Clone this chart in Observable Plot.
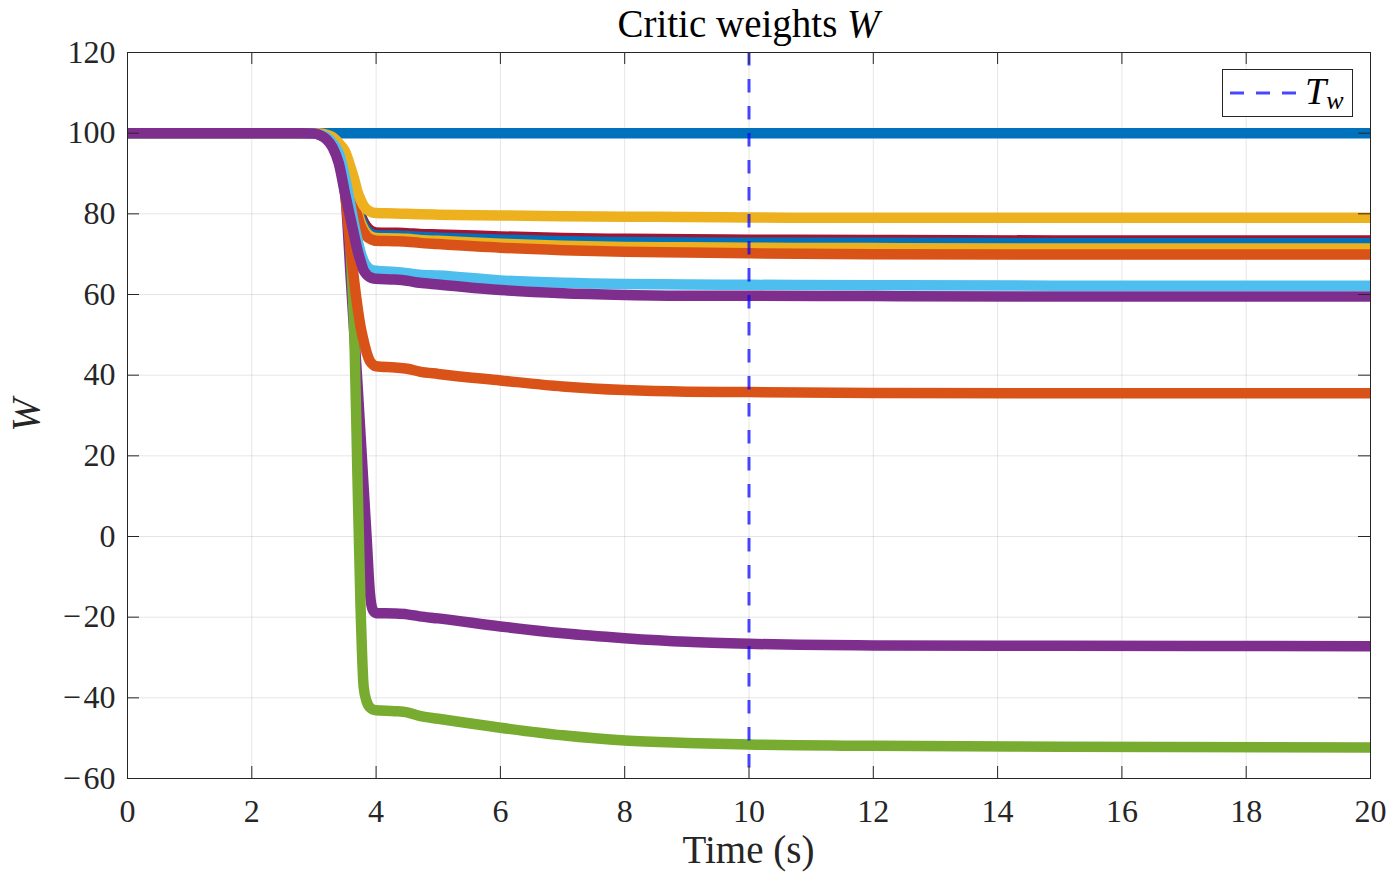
<!DOCTYPE html>
<html>
<head>
<meta charset="utf-8">
<script src="https://cdn.jsdelivr.net/npm/d3@7"></script>
<script src="https://cdn.jsdelivr.net/npm/@observablehq/plot@0.6"></script>
<style>
  html, body { margin: 0; padding: 0; background: #fff; }
  #chart { width: 1396px; height: 882px; }
</style>
</head>
<body>
<div id="chart"></div>
<script>
// ---- data ----
const times = [0, 2.8, 3.0, 3.1, 3.2, 3.3, 3.4, 3.5, 3.6, 3.65, 3.7, 3.75, 3.8, 3.85, 3.9, 3.95, 4.0, 4.3, 4.5, 4.7, 5, 6, 7, 8, 9, 10, 12, 15, 20];

const wBlue100   = [100,100,100,100,100,100,100,100,100,100,100,100,100,100,100,100,100,100,100,100,100,100,100,100,100,100,100,100,100];
const wPurpleNeg = [100,100,99.9,99.6,99,97.5,94.5,86,62,50,38,25,12,-1,-14,-18.3,-19,-19.1,-19.3,-19.8,-20.3,-22.3,-24,-25.2,-26.1,-26.6,-27,-27.1,-27.2];
const wGreen     = [100,100,99.9,99.6,99,98,96,91,68,50,15,-17.5,-37.3,-41,-42.4,-42.9,-43.1,-43.3,-43.6,-44.5,-45.2,-47.4,-49.3,-50.6,-51.2,-51.6,-51.9,-52.1,-52.3];
const wOrange35  = [100,100,99.9,99.6,99,97.5,94.5,85,70,63,57,52,48.5,45.5,43.5,42.6,42.2,41.9,41.6,40.9,40.3,38.7,37.2,36.3,35.9,35.8,35.6,35.5,35.5];
const wDarkRed   = [100,100,100,99.8,99.4,98.5,96.5,92.5,87.5,85,82.5,80,78,76.8,76,75.6,75.4,75.3,75.2,75.0,74.9,74.4,74.0,73.8,73.7,73.6,73.5,73.4,73.4];
const wBlue73    = [100,100,100,99.8,99.4,98.5,96.5,92,86.5,84,81.5,79,77.2,76,75.2,74.9,74.7,74.6,74.5,74.3,74.1,73.6,73.2,73.0,72.9,72.8,72.8,72.7,72.7];
const wYellow72  = [100,100,100,99.8,99.3,98.3,96,91.5,86,83,80.5,78,76.3,75.2,74.5,74.2,74.0,73.9,73.8,73.5,73.3,72.6,72.1,71.8,71.7,71.6,71.5,71.4,71.4];
const wOrange70  = [100,100,100,99.8,99.2,98,95.5,91,85,82,79.5,77,75.5,74.4,73.8,73.5,73.3,73.2,73.1,72.8,72.5,71.6,71.0,70.6,70.4,70.2,70.0,69.9,69.9];
const wYellow79  = [100,100,100,99.9,99.6,99,97.5,95.5,91,88.5,85.5,83.5,82,81.1,80.6,80.3,80.2,80.1,80.0,79.9,79.8,79.6,79.4,79.3,79.2,79.1,79.0,79.0,79.0];
const wLightBlue = [100,100,99.9,99.6,99,97.5,95,89,81,77,73.5,70.5,68.3,67,66.3,66,65.9,65.6,65.3,64.9,64.7,63.5,62.9,62.6,62.5,62.4,62.3,62.2,62.2];
const wPurple60  = [100,100,99.9,99.5,98.5,96.5,92.5,85,78,74.5,71,68.3,66,64.9,64.3,64,63.9,63.7,63.4,62.9,62.5,61.1,60.3,59.9,59.7,59.7,59.6,59.5,59.5];

// drawing order (bottom to top) and colours
const seriesValues = [wBlue100, wPurpleNeg, wGreen, wOrange35, wDarkRed, wBlue73, wYellow72, wOrange70, wYellow79, wLightBlue, wPurple60];
const seriesColors = ["#0072BD", "#7E2F8E", "#77AC30", "#D95319", "#A2142F", "#0072BD", "#EDB120", "#D95319", "#EDB120", "#4DBEEE", "#7E2F8E"];

const xTicks = [0, 2, 4, 6, 8, 10, 12, 14, 16, 18, 20];
const yTicks = [-60, -40, -20, 0, 20, 40, 60, 80, 100, 120];
const tw = [10];

// ---- build ----
const lineMarks = seriesValues.map((vals, i) =>
  Plot.line(times.map((t, j) => ({t, w: vals[j]})), {
    x: "t", y: "w", stroke: seriesColors[i], strokeWidth: 10.5,
    curve: "monotone-x", strokeLinecap: "butt", clip: true
  })
);

const W = 1396, H = 882;
const mL = 127, mR = 26, mT = 52, mB = 104;
const fw = W - mL - mR, fh = H - mT - mB;
const tickLen = 12;

const chart = Plot.plot({
  width: W, height: H,
  marginLeft: mL, marginRight: mR, marginTop: mT, marginBottom: mB,
  style: {fontFamily: "'Liberation Serif', 'DejaVu Serif', serif", fontSize: "32px", color: "#262626", background: "#fff"},
  x: {domain: [0, 20], label: null},
  y: {domain: [-60, 120], label: null},
  marks: [
    Plot.gridX(xTicks, {stroke: "#000", strokeOpacity: 0.1, strokeWidth: 1}),
    Plot.gridY(yTicks, {stroke: "#000", strokeOpacity: 0.1, strokeWidth: 1}),
    Plot.axisX(xTicks, {tickSize: 0, tickPadding: 21, fontSize: 32, tickFormat: d3.format("d"), label: null}),
    Plot.axisY(yTicks, {tickSize: 0, tickPadding: 12, fontSize: 32, tickFormat: d => String(d).replace("-", "\u2212\u200A"), label: null}),
    ...lineMarks,
    Plot.ruleX(tw, {stroke: "#0000FF", strokeOpacity: 0.72, strokeWidth: 3, strokeDasharray: "13.5,13.5"}),
    // inward ticks on all four sides
    Plot.tickX(xTicks, {x: d => d, stroke: "#262626", strokeWidth: 1, insetTop: fh - tickLen}),
    Plot.tickX(xTicks, {x: d => d, stroke: "#262626", strokeWidth: 1, insetBottom: fh - tickLen}),
    Plot.tickY(yTicks, {y: d => d, stroke: "#262626", strokeWidth: 1, insetRight: fw - tickLen}),
    Plot.tickY(yTicks, {y: d => d, stroke: "#262626", strokeWidth: 1, insetLeft: fw - tickLen}),
    Plot.frame({stroke: "#262626", strokeWidth: 1})
  ]
});

const svg = d3.select(chart);
const cx = mL + fw / 2;

// title
const title = svg.append("text")
  .attr("x", cx).attr("y", 37).attr("text-anchor", "middle")
  .attr("font-size", 39).attr("fill", "#000");
title.append("tspan").text("Critic weights ");
title.append("tspan").attr("font-style", "italic").text("W");

// x label
svg.append("text")
  .attr("x", cx).attr("y", 863).attr("text-anchor", "middle")
  .attr("font-size", 39).attr("fill", "#262626")
  .text("Time (s)");

// y label
svg.append("text")
  .attr("transform", `translate(39,${mT + fh / 2}) rotate(-90)`)
  .attr("text-anchor", "middle")
  .attr("font-size", 40).attr("font-style", "italic").attr("fill", "#262626")
  .text("W");

// legend
const lg = svg.append("g");
lg.append("rect").attr("x", 1222.5).attr("y", 69.5).attr("width", 130).attr("height", 47)
  .attr("fill", "#fff").attr("stroke", "#262626").attr("stroke-width", 1);
lg.append("line").attr("x1", 1230).attr("x2", 1298).attr("y1", 93).attr("y2", 93)
  .attr("stroke", "#0000FF").attr("stroke-opacity", 0.72).attr("stroke-width", 3)
  .attr("stroke-dasharray", "14,12");
const lt = lg.append("text").attr("x", 1305).attr("y", 104).attr("text-anchor", "start")
  .attr("font-size", 38).attr("font-style", "italic").attr("fill", "#000");
lt.append("tspan").text("T");
lt.append("tspan").attr("font-size", 26).attr("dy", 5).text("w");

document.getElementById("chart").appendChild(chart);
</script>
</body>
</html>
